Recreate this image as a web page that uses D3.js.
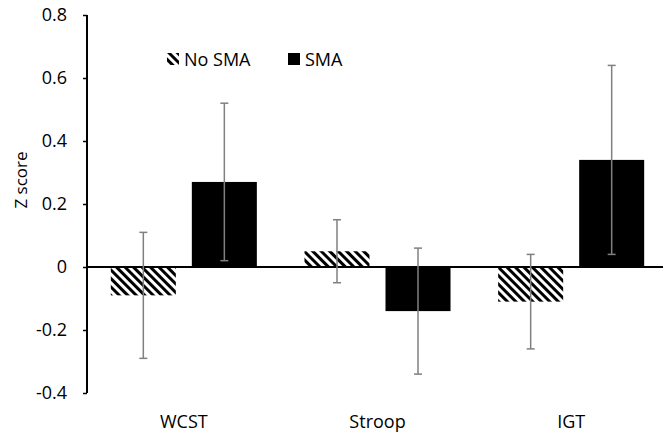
<!DOCTYPE html>
<html lang="en">
    <head>
        <meta charset="utf-8">
        <title>Z score chart</title>
        <script type="text/javascript" src="https://cdn.jsdelivr.net/npm/d3@7"></script>
        <style type="text/css">
        body { margin: 0; background: #fff; }
        text { font-family: "Open Sans", sans-serif; }
        </style>
    </head>
    <body>
        <script type="text/javascript">
        var categories = ["WCST", "Stroop", "IGT"];
        var series = ["No SMA", "SMA"];
        var noSma = [-0.09, 0.05, -0.11];
        var noSmaErr = [0.20, 0.10, 0.15];
        var sma = [0.27, -0.14, 0.34];
        var smaErr = [0.25, 0.20, 0.30];
        var yTicks = [-0.4, -0.2, 0, 0.2, 0.4, 0.6, 0.8];
        var yTickLabels = ["-0.4", "-0.2", "0", "0.2", "0.4", "0.6", "0.8"];

        var w = 663, h = 435;

        var svg = d3.select("body")
        .append("svg")
        .attr("width", w)
        .attr("height", h);

        // diagonal stripes for No SMA
        var pat = svg.append("defs").append("pattern")
        .attr("id", "hatch")
        .attr("patternUnits", "userSpaceOnUse")
        .attr("width", 6)
        .attr("height", 6)
        .attr("patternTransform", "rotate(-45)");
        pat.append("rect").attr("width", 6).attr("height", 6).attr("fill", "#fff");
        pat.append("rect").attr("width", 3).attr("height", 6).attr("fill", "#000");

        var y = d3.scaleLinear().domain([-0.4, 0.8]).range([393, 15]);
        var x0 = d3.scaleBand().domain(categories).range([87, 668]);
        var x1 = d3.scaleBand().domain(series).range([0, x0.bandwidth()])
        .paddingInner(0.1975).paddingOuter(0.294);

        var flat = [];
        categories.forEach(function(c, i) {
            flat.push({cat: c, s: "No SMA", v: noSma[i], e: noSmaErr[i]});
            flat.push({cat: c, s: "SMA", v: sma[i], e: smaErr[i]});
        });

        // y axis
        var yAxis = d3.axisLeft(y).tickValues(yTicks)
        .tickFormat(function(d, i) { return yTickLabels[i]; })
        .tickSize(4).tickPadding(16);
        var ga = svg.append("g").attr("transform", "translate(87,0)").call(yAxis);
        ga.select(".domain").attr("stroke", "#000").attr("stroke-width", 2).attr("d", "M0,15V393");
        ga.selectAll(".tick line").attr("stroke", "#000").attr("stroke-width", 1.5);
        ga.selectAll(".tick text").attr("font-size", "18px").attr("fill", "#000")
        .attr("font-family", "'Open Sans', sans-serif");

        // bars
        svg.selectAll("rect.bar")
        .data(flat)
        .enter()
        .append("rect")
        .attr("class", "bar")
        .attr("x", function(d) { return x0(d.cat) + x1(d.s); })
        .attr("width", x1.bandwidth())
        .attr("y", function(d) { return y(Math.max(0, d.v)); })
        .attr("height", function(d) { return Math.abs(y(d.v) - y(0)); })
        .attr("fill", function(d) { return d.s === "SMA" ? "#000" : "url(#hatch)"; });

        // zero line
        svg.append("line")
        .attr("x1", 87).attr("x2", 663)
        .attr("y1", y(0)).attr("y2", y(0))
        .attr("stroke", "#000").attr("stroke-width", 2);

        // error bars
        var eb = svg.selectAll("g.err")
        .data(flat)
        .enter()
        .append("g")
        .attr("class", "err")
        .attr("transform", function(d) {
            return "translate(" + (x0(d.cat) + x1(d.s) + x1.bandwidth() / 2) + ",0)";
        });
        eb.append("line")
        .attr("y1", function(d) { return y(d.v + d.e); })
        .attr("y2", function(d) { return y(d.v - d.e); })
        .attr("stroke", "#808080").attr("stroke-width", 1.5);
        eb.selectAll("line.cap")
        .data(function(d) { return [d.v + d.e, d.v - d.e]; })
        .enter()
        .append("line")
        .attr("class", "cap")
        .attr("x1", -4).attr("x2", 4)
        .attr("y1", function(d) { return y(d); })
        .attr("y2", function(d) { return y(d); })
        .attr("stroke", "#808080").attr("stroke-width", 1.5);

        // category labels
        svg.selectAll("text.cat")
        .data(categories)
        .enter()
        .append("text")
        .attr("class", "cat")
        .text(function(d) { return d; })
        .attr("x", function(d) { return x0(d) + x0.bandwidth() / 2; })
        .attr("y", 428)
        .attr("text-anchor", "middle")
        .attr("font-size", "18px")
        .attr("fill", "#000");

        // y title
        svg.append("text")
        .text("Z score")
        .attr("transform", "translate(27,180) rotate(-90)")
        .attr("text-anchor", "middle")
        .attr("font-size", "17px")
        .attr("fill", "#000");

        // legend
        var legX = [167, 288];
        var leg = svg.selectAll("g.leg")
        .data(series)
        .enter()
        .append("g")
        .attr("class", "leg")
        .attr("transform", function(d, i) { return "translate(" + legX[i] + ",53)"; });
        leg.append("rect")
        .attr("width", 12).attr("height", 12)
        .attr("fill", function(d) { return d === "SMA" ? "#000" : "url(#hatch)"; });
        leg.append("text")
        .text(function(d) { return d; })
        .attr("x", 17).attr("y", 13)
        .attr("font-size", "18px")
        .attr("fill", "#000");
        </script>
    </body>
</html>
